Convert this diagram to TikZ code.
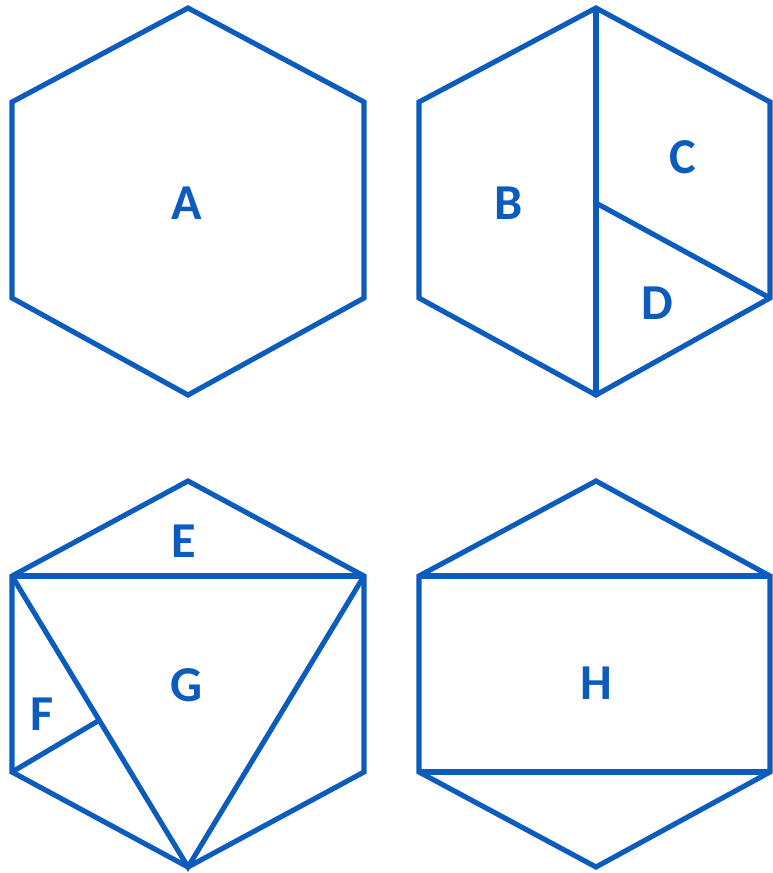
\documentclass[tikz,border=0pt]{standalone}
\usepackage{fontspec}
\setmainfont{Carlito}
\definecolor{hexblue}{RGB}{12,92,190}
\tikzset{
  hexline/.style={draw=hexblue, line width=2.9pt},
  piece/.style={text=hexblue, font=\fontsize{28.5}{30}\selectfont\bfseries}
}
\begin{document}
\begin{tikzpicture}[x=0.5669pt, y=-0.5669pt]

\useasboundingbox (0,0) rectangle (772,873);

% A
\draw[hexline] (188,8) -- (364,102) -- (364,298) -- (188,395) -- (12,298) -- (12,102) -- cycle;
\node[piece] (a) at (187,203) {A};

% B, C, D
\draw[hexline] (596,8) -- (770,102) -- (770,298) -- (596,395) -- (419,298) -- (419,102) -- cycle;
\draw[hexline] (596,8) -- (596,395);
\draw[hexline] (596,203) -- (770,298);
\node[piece] (b) at (509,203) {B};
\node[piece] (c) at (683,157) {C};
\node[piece] (d) at (657,303) {D};

% E, F, G
\draw[hexline] (188,481) -- (364,576) -- (364,772) -- (188,867) -- (12,772) -- (12,576) -- cycle;
\draw[hexline] (12,576) -- (364,576);
\draw[hexline] (12,576) -- (188,867) -- (364,576);
\draw[hexline] (12,772) -- (98,721);
\node[piece] (e) at (184,541) {E};
\node[piece] (f) at (42,714) {F};
\node[piece] (g) at (187,685) {G};

% H
\draw[hexline] (596,481) -- (770,576) -- (770,772) -- (596,867) -- (419,772) -- (419,576) -- cycle;
\draw[hexline] (419,576) -- (770,576);
\draw[hexline] (419,772) -- (770,772);
\node[piece] (h) at (596,683) {H};

\end{tikzpicture}
\end{document}
